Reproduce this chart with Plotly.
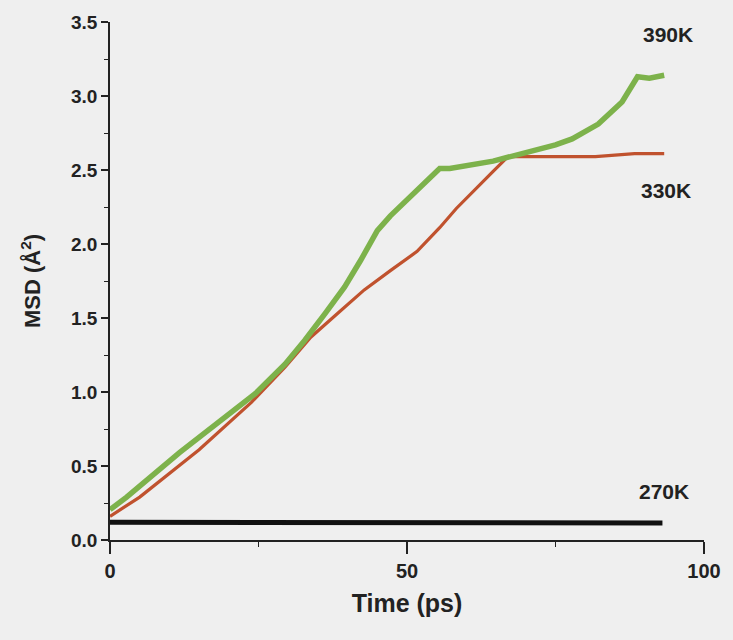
import plotly.graph_objects as go

# ---- data ----
time_390 = [0, 2.8, 11.7, 20.5, 24.5, 29.5, 32.8, 36.2, 39.5, 42.2, 45.0, 47.2, 51.7,
            55.5, 57.2, 64.5, 75.0, 77.8, 82.2, 86.2, 88.8, 90.8, 93.3]
msd_390 = [0.205, 0.29, 0.59, 0.86, 0.99, 1.19, 1.35, 1.53, 1.71, 1.89, 2.09, 2.19, 2.36,
           2.51, 2.51, 2.56, 2.67, 2.71, 2.81, 2.96, 3.13, 3.12, 3.14]

time_330 = [0, 5.0, 15.0, 23.8, 29.5, 33.8, 38.3, 42.8, 47.2, 51.7, 55.5, 58.3, 64.5,
            67.0, 75.0, 81.7, 88.3, 93.3]
msd_330 = [0.16, 0.29, 0.61, 0.93, 1.17, 1.37, 1.53, 1.69, 1.82, 1.95, 2.11, 2.24, 2.49,
           2.59, 2.59, 2.59, 2.61, 2.61]

time_270 = [0, 20, 40, 60, 80, 93.0]
msd_270 = [0.12, 0.12, 0.118, 0.12, 0.117, 0.115]

labels = ["390K", "330K", "270K"]
label_x = [94.0, 93.6, 93.3]
label_y = [3.415, 2.36, 0.33]

x_ticks = [0, 50, 100]
y_ticks = [0.0, 0.5, 1.0, 1.5, 2.0, 2.5, 3.0, 3.5]

FONT = "Liberation Sans, Arial, sans-serif"
AX = "#222222"
TXT = "#222222"

fig = go.Figure()
fig.add_trace(go.Scatter(x=time_270, y=msd_270, mode="lines",
                         line=dict(color="#111111", width=5), showlegend=False))
fig.add_trace(go.Scatter(x=time_330, y=msd_330, mode="lines",
                         line=dict(color="#c0522e", width=3.2), showlegend=False))
fig.add_trace(go.Scatter(x=time_390, y=msd_390, mode="lines",
                         line=dict(color="#7db24b", width=5.5), showlegend=False))

for t, xx, yy in zip(labels, label_x, label_y):
    fig.add_annotation(x=xx, y=yy, text="<b>%s</b>" % t, showarrow=False,
                       xanchor="center", yanchor="middle",
                       font=dict(family=FONT, size=21, color=TXT))

fig.update_layout(
    width=733, height=640,
    margin=dict(l=110, r=23, t=20, b=100),
    paper_bgcolor="#efefef", plot_bgcolor="#efefef",
    showlegend=False,
)
fig.update_xaxes(
    range=[0, 100], tickvals=x_ticks, ticktext=["<b>%d</b>" % v for v in x_ticks],
    showline=True, linecolor=AX, linewidth=1.6, ticks="outside", ticklen=12,
    tickwidth=1.6, tickcolor=AX, showgrid=False, zeroline=False,
    tickfont=dict(family=FONT, size=20, color=TXT),
    minor=dict(dtick=25, ticks="outside", ticklen=5, tickwidth=1.4, tickcolor=AX),
    title=dict(text="<b>Time (ps)</b>", font=dict(family=FONT, size=25, color=TXT),
               standoff=14),
)
fig.update_yaxes(
    range=[0, 3.5], tickvals=y_ticks, ticktext=["<b>%.1f</b>" % v for v in y_ticks],
    showline=True, linecolor=AX, linewidth=1.6, ticks="outside", ticklen=7,
    tickwidth=1.6, tickcolor=AX, showgrid=False, zeroline=False,
    tickfont=dict(family=FONT, size=19, color=TXT),
    minor=dict(dtick=0.25, ticks="outside", ticklen=4, tickwidth=1.4, tickcolor=AX),
    title=dict(text="<b>MSD (Å<sup>2</sup>)</b>", font=dict(family=FONT, size=22, color=TXT),
               standoff=24),
)

fig.write_html("out.html")
